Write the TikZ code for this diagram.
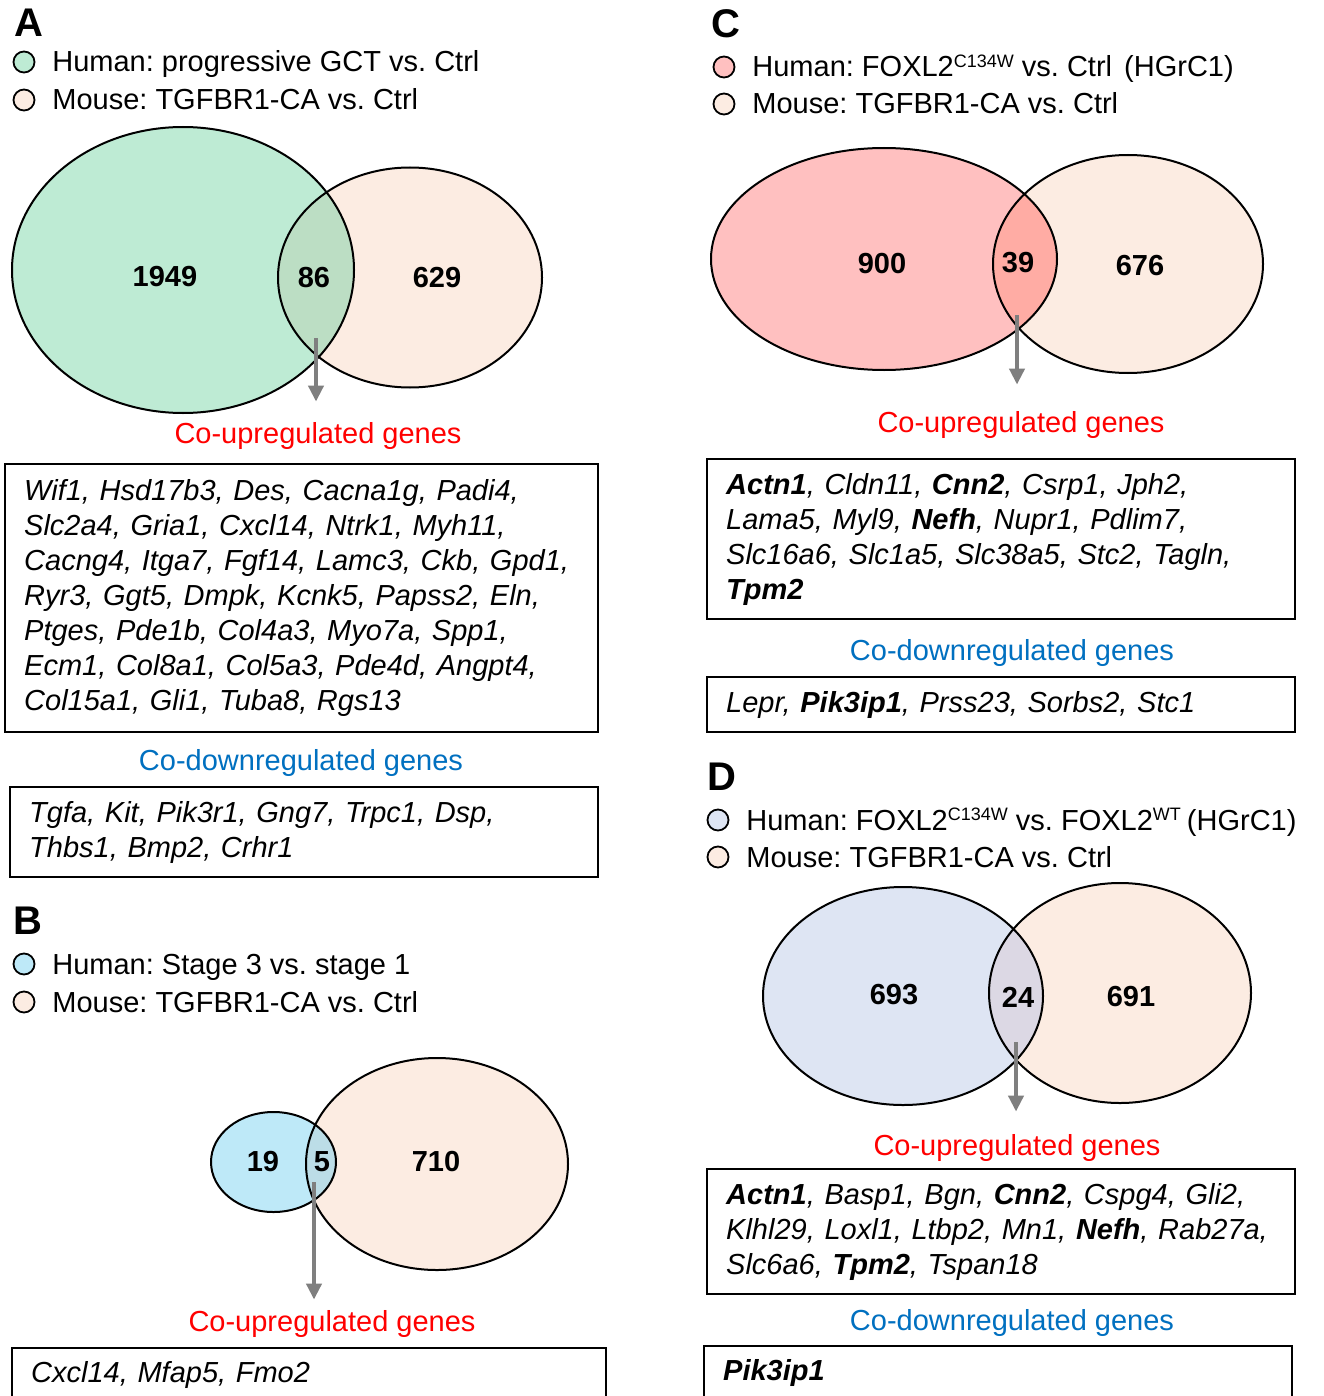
\documentclass[tikz,border=0pt]{standalone}
\usepackage{fontspec}
\setmainfont{Liberation Sans}
\usetikzlibrary{arrows.meta,positioning}

\definecolor{hgreen}{RGB}{190,235,212}
\definecolor{lgreen}{RGB}{188,222,196}
\definecolor{mpeach}{RGB}{252,236,226}
\definecolor{hpink}{RGB}{255,192,192}
\definecolor{lpink}{RGB}{255,172,164}
\definecolor{hblue}{RGB}{190,233,248}
\definecolor{lblue}{RGB}{188,221,231}
\definecolor{hlav}{RGB}{222,229,243}
\definecolor{llav}{RGB}{220,216,228}
\definecolor{upred}{RGB}{255,0,0}
\definecolor{downblue}{RGB}{0,112,192}
\definecolor{arrgray}{RGB}{127,127,127}

\newcommand{\labfont}{\fontsize{14.5}{17.5}\selectfont}
\newcommand{\genefont}{\fontsize{14.5}{17.5}\selectfont\itshape}
\newcommand{\supx}[1]{\raisebox{4.6pt}{\fontsize{9}{9}\selectfont #1}}
\frenchspacing

\begin{document}
\begin{tikzpicture}[x=0.5pt,y=-0.5pt,
	panel/.style={anchor=base west,inner sep=0,font=\fontsize{20}{20}\selectfont\bfseries},
	legdot/.style={circle,draw,line width=0.9pt,minimum size=10.5pt,inner sep=0},
	legtext/.style={anchor=base west,inner sep=0,font=\labfont},
	vset/.style={line width=1pt},
	vnum/.style={inner sep=0,font=\labfont\bfseries},
	uplab/.style={anchor=base,inner sep=0,font=\labfont,text=upred},
	downlab/.style={anchor=base,inner sep=0,font=\labfont,text=downblue},
	genebox/.style={draw,line width=1.2pt,anchor=north west,align=left,inner xsep=9.5pt,inner ysep=0pt,font=\genefont},
	genearrow/.style={-{Triangle[width=7.5pt,length=8pt]},arrgray,line width=2pt}]
	\path[use as bounding box,fill=white] (0,0) rectangle (1323,1396);

	% A
	\node[panel] (A) at (14,37) {A};
	\node[legdot,fill=hgreen] (Ad1) at (24,62) {};
	\node[legtext] (At1) at (52,72) {Human: progressive GCT vs. Ctrl};
	\node[legdot,fill=mpeach] (Ad2) at (24,100) {};
	\node[legtext] (At2) at (52,110) {Mouse: TGFBR1-CA vs. Ctrl};
	\fill[hgreen] (183,270) ellipse [x radius=171,y radius=143];
	\fill[mpeach] (410,277.5) ellipse [x radius=132,y radius=110];
	\begin{scope}
		\clip (183,270) ellipse [x radius=171,y radius=143];
		\fill[lgreen] (410,277.5) ellipse [x radius=132,y radius=110];
	\end{scope}
	\draw[vset] (183,270) ellipse [x radius=171,y radius=143];
	\draw[vset] (410,277.5) ellipse [x radius=132,y radius=110];
	\node[vnum] (An1) at (165,277) {1949};
	\node[vnum] (An2) at (314,278) {86};
	\node[vnum] (An3) at (437,278) {629};
	\node[uplab] (Aup) at (318,443) {Co-upregulated genes};
	\coordinate (Aarr) at (316,338);
	\draw[genearrow,shorten >=10pt] (Aarr) -- (Aarr |- Aup.north);
	\node[genebox,text width=277.5pt,minimum height=134pt] (Aupbox) at (4,463) {Wif1, Hsd17b3, Des, Cacna1g, Padi4,\\
		Slc2a4, Gria1, Cxcl14, Ntrk1, Myh11,\\
		Cacng4, Itga7, Fgf14, Lamc3, Ckb, Gpd1,\\
		Ryr3, Ggt5, Dmpk, Kcnk5, Papss2, Eln,\\
		Ptges, Pde1b, Col4a3, Myo7a, Spp1,\\
		Ecm1, Col8a1, Col5a3, Pde4d, Angpt4,\\
		Col15a1, Gli1, Tuba8, Rgs13};
	\node[downlab] (Adown) at (301,770) {Co-downregulated genes};
	\node[genebox,text width=275pt,minimum height=45pt] (Adownbox) at (9,786) {Tgfa, Kit, Pik3r1, Gng7, Trpc1, Dsp,\\
		Thbs1, Bmp2, Crhr1};

	% B
	\node[panel] (B) at (13,934) {B};
	\node[legdot,fill=hblue] (Bd1) at (24,964) {};
	\node[legtext] (Bt1) at (52,974) {Human: Stage 3 vs. stage 1};
	\node[legdot,fill=mpeach] (Bd2) at (24,1002) {};
	\node[legtext] (Bt2) at (52,1012) {Mouse: TGFBR1-CA vs. Ctrl};
	\fill[hblue] (273.5,1162) ellipse [x radius=62.5,y radius=50];
	\fill[mpeach] (437,1164) ellipse [x radius=131,y radius=106];
	\begin{scope}
		\clip (273.5,1162) ellipse [x radius=62.5,y radius=50];
		\fill[lblue] (437,1164) ellipse [x radius=131,y radius=106];
	\end{scope}
	\draw[vset] (273.5,1162) ellipse [x radius=62.5,y radius=50];
	\draw[vset] (437,1164) ellipse [x radius=131,y radius=106];
	\node[vnum] (Bn1) at (263,1162) {19};
	\node[vnum] (Bn2) at (322,1162) {5};
	\node[vnum] (Bn3) at (436,1162) {710};
	\node[uplab] (Bup) at (332,1331) {Co-upregulated genes};
	\coordinate (Barr) at (314,1182);
	\draw[genearrow,shorten >=5pt] (Barr) -- (Barr |- Bup.north);
	\node[genebox,text width=278pt,minimum height=27pt] (Bupbox) at (11,1347) {Cxcl14, Mfap5, Fmo2};

	% C
	\node[panel] (C) at (711,38) {C};
	\node[legdot,fill=hpink] (Cd1) at (724,67) {};
	\node[legtext] (Ct1) at (752,77) {Human: FOXL2\supx{C134W} vs. Ctrl\hspace{2pt} (HGrC1)};
	\node[legdot,fill=mpeach] (Cd2) at (724,104) {};
	\node[legtext] (Ct2) at (752,114) {Mouse: TGFBR1-CA vs. Ctrl};
	\fill[hpink] (884,259) ellipse [x radius=173,y radius=111];
	\fill[mpeach] (1128,264) ellipse [x radius=135,y radius=109];
	\begin{scope}
		\clip (884,259) ellipse [x radius=173,y radius=111];
		\fill[lpink] (1128,264) ellipse [x radius=135,y radius=109];
	\end{scope}
	\draw[vset] (884,259) ellipse [x radius=173,y radius=111];
	\draw[vset] (1128,264) ellipse [x radius=135,y radius=109];
	\node[vnum] (Cn1) at (882,264) {900};
	\node[vnum] (Cn2) at (1018,263) {39};
	\node[vnum] (Cn3) at (1140,266) {676};
	\node[uplab] (Cup) at (1021,432) {Co-upregulated genes};
	\coordinate (Carr) at (1017,315);
	\draw[genearrow,shorten >=13pt] (Carr) -- (Carr |- Cup.north);
	\node[genebox,text width=275pt,minimum height=80pt] (Cupbox) at (706,458) {\textbf{Actn1}, Cldn11, \textbf{Cnn2}, Csrp1, Jph2,\\
		Lama5, Myl9, \textbf{Nefh}, Nupr1, Pdlim7,\\
		Slc16a6, Slc1a5, Slc38a5, Stc2, Tagln,\\
		\textbf{Tpm2}};
	\node[downlab] (Cdown) at (1012,660) {Co-downregulated genes};
	\node[genebox,text width=275pt,minimum height=27.5pt] (Cdownbox) at (706,676) {Lepr, \textbf{Pik3ip1}, Prss23, Sorbs2, Stc1};

	% D
	\node[panel] (D) at (707,790) {D};
	\node[legdot,fill=hlav] (Dd1) at (718,820) {};
	\node[legtext] (Dt1) at (746,830) {Human: FOXL2\supx{C134W} vs. FOXL2\supx{WT}\hspace{-1pt} (HGrC1)};
	\node[legdot,fill=mpeach] (Dd2) at (718,857) {};
	\node[legtext] (Dt2) at (746,867) {Mouse: TGFBR1-CA vs. Ctrl};
	\fill[hlav] (903,996) ellipse [x radius=140,y radius=109];
	\fill[mpeach] (1120,993) ellipse [x radius=131,y radius=110];
	\begin{scope}
		\clip (903,996) ellipse [x radius=140,y radius=109];
		\fill[llav] (1120,993) ellipse [x radius=131,y radius=110];
	\end{scope}
	\draw[vset] (903,996) ellipse [x radius=140,y radius=109];
	\draw[vset] (1120,993) ellipse [x radius=131,y radius=110];
	\node[vnum] (Dn1) at (894,995) {693};
	\node[vnum] (Dn2) at (1018,997) {24};
	\node[vnum] (Dn3) at (1131,997) {691};
	\node[uplab] (Dup) at (1017,1155) {Co-upregulated genes};
	\coordinate (Darr) at (1016,1042);
	\draw[genearrow,shorten >=11pt] (Darr) -- (Darr |- Dup.north);
	\node[genebox,text width=275pt,minimum height=62.5pt] (Dupbox) at (706,1168) {\textbf{Actn1}, Basp1, Bgn, \textbf{Cnn2}, Cspg4, Gli2,\\
		Klhl29, Loxl1, Ltbp2, Mn1, \textbf{Nefh}, Rab27a,\\
		Slc6a6, \textbf{Tpm2}, Tspan18};
	\node[downlab] (Ddown) at (1012,1330) {Co-downregulated genes};
	\node[genebox,text width=275pt,minimum height=27pt] (Ddownbox) at (703,1345) {\textbf{Pik3ip1}};
\end{tikzpicture}
\end{document}
